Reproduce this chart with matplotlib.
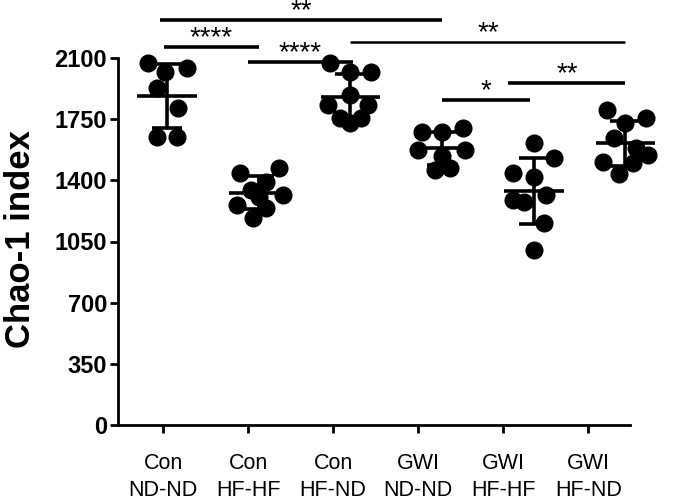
import numpy as np
import matplotlib
matplotlib.use('Agg')
import matplotlib.pyplot as plt

plt.rcParams['font.family'] = ['Liberation Sans', 'DejaVu Sans']

# 组别标签
groups = ['Con\nND-ND', 'Con\nHF-HF', 'Con\nHF-ND', 'GWI\nND-ND', 'GWI\nHF-HF', 'GWI\nHF-ND']

# 每组的 Chao-1 值
con_nd_nd = [2071, 2020, 2043, 1928, 1814, 1648, 1648]
con_hf_hf = [1442, 1471, 1390, 1345, 1316, 1259, 1242, 1184, 1303]
con_hf_nd = [2071, 2020, 2020, 1888, 1831, 1831, 1757, 1757, 1728]
gwi_nd_nd = [1677, 1677, 1699, 1574, 1574, 1459, 1471, 1540]
gwi_hf_hf = [1614, 1528, 1442, 1419, 1316, 1287, 1276, 1156, 1001]
gwi_hf_nd = [1802, 1757, 1728, 1642, 1585, 1545, 1505, 1499, 1436]
values = [con_nd_nd, con_hf_hf, con_hf_nd, gwi_nd_nd, gwi_hf_hf, gwi_hf_nd]

# 点的水平散开（组内偏移）
spread = [
    [-0.22, -0.02, 0.24, -0.12, 0.13, -0.12, 0.12],
    [-0.22, 0.24, 0.08, -0.09, 0.28, -0.25, 0.08, -0.07, 0.0],
    [-0.24, 0.0, 0.24, 0.0, -0.26, 0.21, -0.12, 0.12, 0.0],
    [-0.24, 0.0, 0.24, -0.28, 0.27, -0.08, 0.09, 0.0],
    [0.0, 0.24, -0.24, 0.0, 0.14, -0.25, -0.12, 0.12, 0.0],
    [-0.22, 0.24, 0.0, -0.14, 0.12, 0.27, -0.26, 0.09, -0.08],
]

# 显著性标注: (组1, 组2, 高度, 文本, 线宽, 左偏移, 右偏移)
brackets = [
    (0, 3, 2317, '**', 2.6, -0.08, 0.0),
    (0, 1, 2163, '****', 2.6, -0.04, 0.0),
    (1, 2, 2077, '****', 2.6, -0.13, 0.03),
    (2, 5, 2192, '**', 1.8, 0.0, 0.0),
    (3, 4, 1860, '*', 2.6, 0.0, -0.05),
    (4, 5, 1957, '**', 2.6, -0.3, 0.0),
]

pos = 1.047 + np.arange(6) * 1.078

fig = plt.figure(figsize=(6.85, 5.01), dpi=100)
ax = fig.add_axes([118 / 685, 76 / 501, 512 / 685, 367 / 501])

for i, v in enumerate(values):
    v = np.array(v)
    xs = pos[i] + np.array(spread[i])
    ax.plot(xs, v, 'o', color='black', ms=12, clip_on=False, zorder=3)
    m, sd = v.mean(), v.std(ddof=1)
    ax.hlines(m, pos[i] - 0.35, pos[i] + 0.35, color='black', lw=2.6, zorder=4, clip_on=False)
    ax.errorbar(pos[i], m, yerr=sd, fmt='none', ecolor='black', elinewidth=2.6,
                capsize=11, capthick=2.6, zorder=4, clip_on=False)

for g1, g2, y, txt, lw, d0, d1 in brackets:
    x0, x1 = pos[g1] + d0, pos[g2] + d1
    ax.plot([x0, x1], [y, y], color='black', lw=lw, clip_on=False, solid_capstyle='butt')
    ax.annotate(txt, xy=((x0 + x1) / 2, y), xytext=(0, 1), textcoords='offset points',
                ha='center', va='baseline', fontsize=20, annotation_clip=False)

ax.set_xlim(0.47, 6.49)
ax.set_ylim(0, 2100)
ax.set_yticks(np.arange(0, 2101, 350))
ax.set_xticks(np.arange(1, 7))
ax.set_xticklabels(groups, fontsize=15.5, linespacing=1.4)
for lab in ax.get_yticklabels():
    lab.set_fontsize(17)
    lab.set_fontweight('bold')
ax.set_ylabel('Chao-1 index', fontsize=25, fontweight='bold')
ax.yaxis.set_label_coords(-0.158, 0.507)

for s in ['top', 'right']:
    ax.spines[s].set_visible(False)
for s in ['left', 'bottom']:
    ax.spines[s].set_linewidth(2)
ax.tick_params(axis='both', width=2, length=6)
ax.tick_params(axis='x', pad=14)
ax.tick_params(axis='y', pad=2)

plt.savefig('out.png', dpi=100)
